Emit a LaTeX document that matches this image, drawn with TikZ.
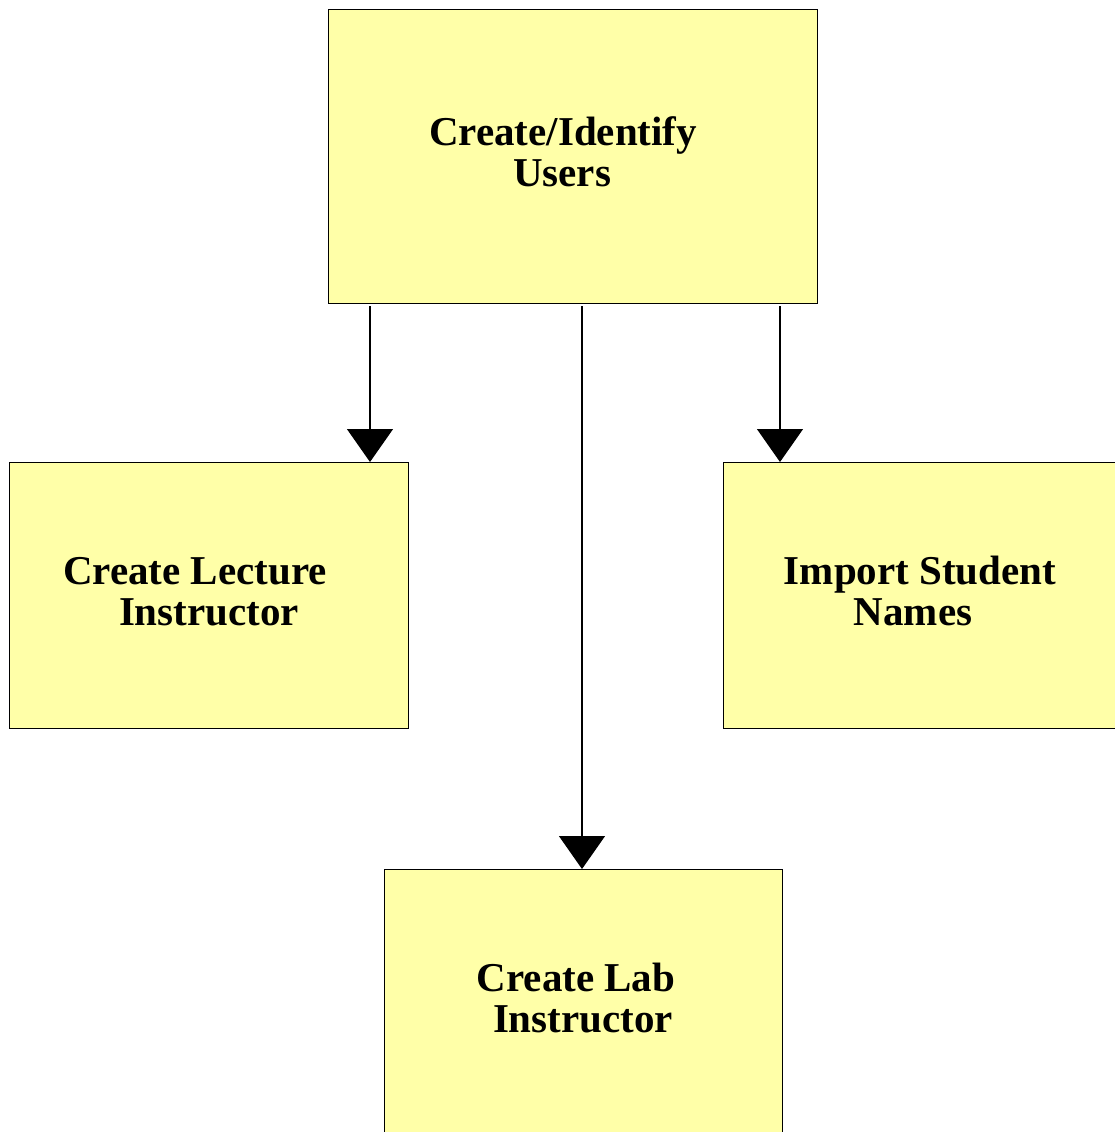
\documentclass[tikz,border=0pt]{standalone}
\usepackage{fontspec}
\setmainfont{Liberation Serif}
\usetikzlibrary{arrows.meta}
\definecolor{boxfill}{HTML}{FFFFA8}
\tikzset{
  task/.style={draw=black, line width=0.9pt, fill=boxfill},
  label/.style={anchor=base, inner sep=0pt, font=\fontsize{41}{41}\selectfont\bfseries},
  flow/.style={line width=1.2pt, -{Triangle[width=46pt,length=33pt]}, shorten <=3pt}
}
\begin{document}
\begin{tikzpicture}[x=1pt,y=-1pt]
  \useasboundingbox (0,0) rectangle (1115,1132);
  % task boxes
  \draw[task] (328,9) rectangle (817,303);
  \coordinate (top) at (572,303);
  \draw[task] (9,462) rectangle (408,728);
  \draw[task] (723,462) rectangle (1130,728);
  \draw[task] (384,869) rectangle (782,1140);
  % box captions
  \node[label] (t1) at (563,145) {Create/Identify};
  \node[label] (t2) at (562,186) {Users};
  \node[label] (l1) at (195,584) {Create Lecture};
  \node[label] (l2) at (209,625) {Instructor};
  \node[label] (r1) at (920,584) {Import Student};
  \node[label] (r2) at (913,625) {Names};
  \node[label] (b1) at (576,991) {Create Lab};
  \node[label] (b2) at (583,1032) {Instructor};
  % connector end points on the box edges
  \coordinate (sL) at (370,303);
  \coordinate (sM) at (582,303);
  \coordinate (sR) at (780,303);
  \coordinate (eL) at (370,462);
  \coordinate (eM) at (582,869);
  \coordinate (eR) at (780,462);
  \draw[flow] (sL) -- (eL);
  \draw[flow] (sM) -- (eM);
  \draw[flow] (sR) -- (eR);
\end{tikzpicture}
\end{document}
